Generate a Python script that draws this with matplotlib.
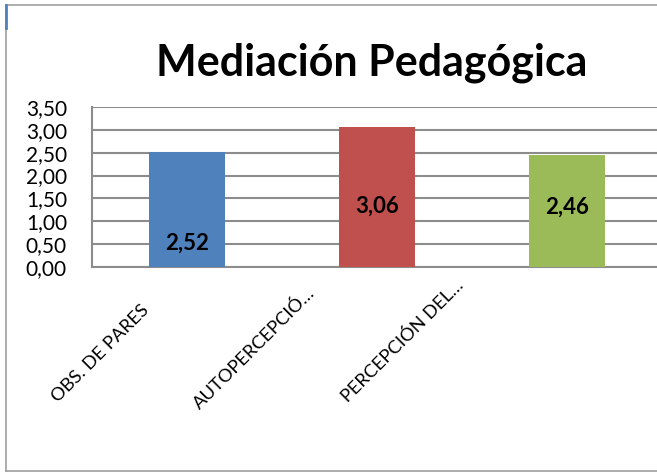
import matplotlib
matplotlib.use("Agg")
import matplotlib.pyplot as plt
from matplotlib.ticker import FuncFormatter, MultipleLocator
from matplotlib.lines import Line2D

categories = ["OBS. DE PARES", "AUTOPERCEPCIÓ…", "PERCEPCIÓN DEL…"]
values = [2.52, 3.06, 2.46]
label_y = [0.52, 1.33, 1.31]
colors = ["#4F81BD", "#C0504D", "#9BBB59"]
title = "Mediación Pedagógica"

plt.rcParams['font.family'] = ['Lato', 'DejaVu Sans']

W, H = 657, 473
fig = plt.figure(figsize=(W/100, H/100), dpi=100)

# chart border
fig.add_artist(Line2D([6/W, 6/W], [1-5/H, 1-471/H], color="#A0A0A0", lw=1.2))
fig.add_artist(Line2D([6/W, 1], [1-5/H, 1-5/H], color="#A0A0A0", lw=1.2))
fig.add_artist(Line2D([6/W, 1], [1-471/H, 1-471/H], color="#A0A0A0", lw=1.2))
fig.add_artist(Line2D([6/W, 6/W], [1-5/H, 1-28/H], color="#4F81BD", lw=2))

ax = fig.add_axes([92/W, (H-267)/H, (662-92)/W, 160/H])
x = list(range(len(categories)))
ax.bar(x, values, width=0.405, color=colors, zorder=3)
ax.set_xlim(-0.5, len(categories)-0.5)
ax.set_ylim(0, 3.5)
ax.yaxis.set_major_locator(MultipleLocator(0.5))
ax.yaxis.set_major_formatter(FuncFormatter(lambda v, p: f"{v:.2f}".replace(".", ",")))
ax.grid(axis="y", color="#8C8C8C", lw=1.5, zorder=0)
for s in ["top", "right"]:
    ax.spines[s].set_visible(False)
for s in ["left", "bottom"]:
    ax.spines[s].set_color("#8C8C8C")
    ax.spines[s].set_linewidth(1.5)
ax.tick_params(axis="y", length=0, pad=18, labelsize=15)
ax.set_xticks(x)
ax.set_xticklabels([])
ax.tick_params(axis="x", length=0)

for i, (v, ly) in enumerate(zip(values, label_y)):
    ax.text(i, ly, f"{v:.2f}".replace(".", ","), ha="center", va="center",
            fontsize=16, fontweight="bold", zorder=4)

label_dx = [-0.245, -0.37, -0.59]
label_dy = [-0.215, -0.11, -0.06]
trans = ax.get_xaxis_transform()
for i, (c, dx, dy) in enumerate(zip(categories, label_dx, label_dy)):
    ax.text(i + dx, dy, c, transform=trans, rotation=45, rotation_mode="anchor",
            ha="right", va="top", fontsize=13.2, clip_on=False)

fig.text(372/W, 1-63/H, title, ha="center", va="center", fontsize=31, fontweight="bold")

fig.savefig("out.png", dpi=100)
